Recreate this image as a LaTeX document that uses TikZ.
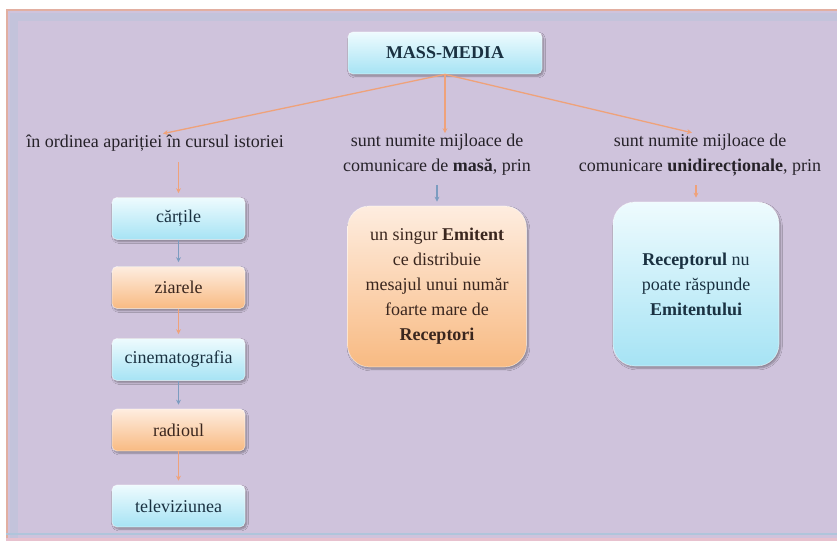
\documentclass[tikz,border=0pt]{standalone}
\usepackage{fontspec}
\setmainfont{Liberation Serif}
\usetikzlibrary{shadows.blur,arrows.meta}

\definecolor{bgpurple}{HTML}{CFC3DC}
\definecolor{cyantop}{HTML}{EEFBFE}
\definecolor{cyanbot}{HTML}{A6E3F4}
\definecolor{orgtop}{HTML}{FEEDE0}
\definecolor{orgbot}{HTML}{F8BA82}
\definecolor{linkorange}{HTML}{EFA27A}
\definecolor{linkblue}{HTML}{7C9CC0}
\definecolor{txtgray}{HTML}{262229}
\definecolor{txtteal}{HTML}{1A3141}
\definecolor{txtbrown}{HTML}{3A261E}

\tikzset{
  boxbase/.style={rounded corners=5pt, draw=white, draw opacity=0.55, line width=0.7pt,
    blur shadow={shadow xshift=1.5pt, shadow yshift=-2pt, shadow blur steps=6, shadow opacity=35},
    align=center, inner sep=2pt},
  cyanbox/.style={boxbase, top color=cyantop, bottom color=cyanbot, text=txtteal},
  orgbox/.style={boxbase, top color=orgtop, bottom color=orgbot, text=txtbrown},
  colbox/.style={minimum width=133pt, minimum height=42pt},
  bigbox/.style={rounded corners=22pt},
  lbl/.style={text=txtgray, align=center, inner sep=1pt},
  orangelink/.style={draw=linkorange, line width=1.3pt, -{Stealth[length=5pt,width=5pt]}},
  bluelink/.style={draw=linkblue, line width=1.3pt, -{Stealth[length=5pt,width=5pt]}},
}

\begin{document}
\begin{tikzpicture}[x=1pt, y=-1pt, font=\fontsize{18}{25}\selectfont]
  \useasboundingbox (0,0) rectangle (837,541);
  % page background and frame
  \fill[white] (0,0) rectangle (837,541);
  \fill[bgpurple] (6,9) rectangle (837,541);
  \draw[line width=8pt, draw=cyan!20!bgpurple, draw opacity=0.35] (14,541) -- (14,17) -- (837,17);
  \draw[line width=2pt, draw=linkorange!60!bgpurple] (7,541) -- (7,10) -- (837,10);
  \draw[line width=2pt, draw=cyan!20!bgpurple] (6,534) -- (837,534);
  \draw[line width=3pt, draw=pink!50!bgpurple] (6,539) -- (837,539);

  % title
  \node[cyanbox, minimum width=194pt, minimum height=42pt, font=\fontsize{18}{25}\selectfont\bfseries] (mm) at (445,53) {MASS-MEDIA};

  % three headings
  \node[lbl] (hist) at (155,143) {în ordinea apariției în cursul istoriei};
  \node[lbl] (masa) at (437,155) {sunt numite mijloace de\\comunicare de \textbf{masă}, prin};
  \node[lbl] (unid) at (700,155) {sunt numite mijloace de\\comunicare \textbf{unidirecționale}, prin};

  \draw[orangelink] (mm.south) -- (hist.north -| 163,0);
  \draw[orangelink] (mm.south) -- (masa.north -| mm.south);
  \draw[orangelink] (mm.south) -- (unid.north -| 692,0);

  % chronological column
  \node[cyanbox, colbox] (c1) at (178.5,218.5) {cărțile};
  \node[orgbox,  colbox] (c2) at (178.5,287.5) {ziarele};
  \node[cyanbox, colbox] (c3) at (178.5,359.5) {cinematografia};
  \node[orgbox,  colbox] (c4) at (178.5,430) {radioul};
  \node[cyanbox, colbox] (c5) at (178.5,506) {televiziunea};

  \draw[orangelink, shorten >=4pt, shorten <=10pt] (hist.south -| c1.north) -- (c1.north);
  \draw[bluelink,   shorten >=4pt] (c1.south) -- (c2.north);
  \draw[orangelink, shorten >=4pt] (c2.south) -- (c3.north);
  \draw[bluelink,   shorten >=4pt] (c3.south) -- (c4.north);
  \draw[orangelink, shorten >=4pt] (c4.south) -- (c5.north);

  % mass communication box
  \node[orgbox, bigbox, minimum width=179pt, minimum height=161pt] (mbox) at (437,286.5)
    {un singur \textbf{Emitent}\\ce distribuie\\mesajul unui număr\\foarte mare de\\\textbf{Receptori}};
  \draw[bluelink, shorten >=4pt, shorten <=8pt] (masa.south) -- (mbox.north);

  % one-way communication box
  \node[cyanbox, bigbox, minimum width=166pt, minimum height=164pt] (rbox) at (696,284)
    {\textbf{Receptorul} nu\\poate răspunde\\\textbf{Emitentului}};
  \draw[orangelink, shorten >=4pt, shorten <=8pt] (unid.south -| rbox.north) -- (rbox.north);
\end{tikzpicture}
\end{document}
